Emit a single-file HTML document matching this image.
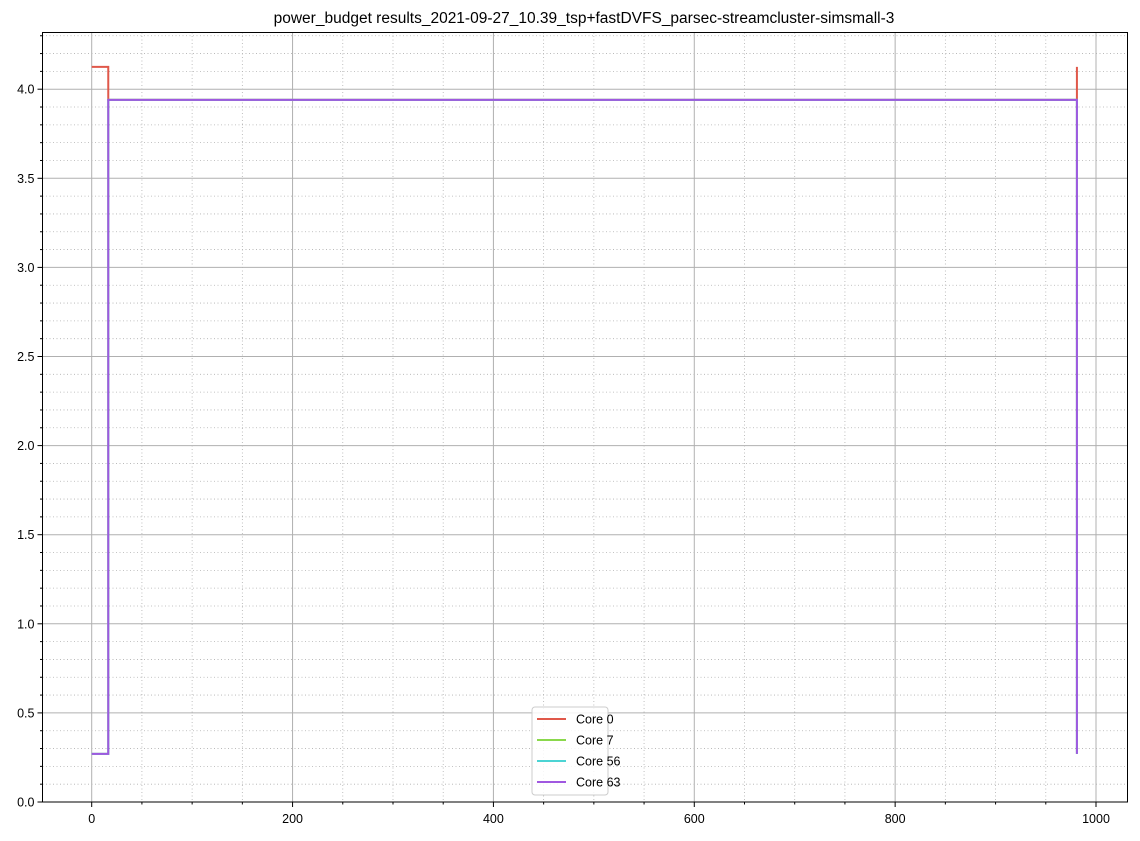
<!DOCTYPE html>
<html><head><meta charset="utf-8"><style>body{margin:0;background:#fff}svg{font-family:"Liberation Sans","DejaVu Sans",sans-serif}</style></head>
<body>
<svg id="chart" width="1140" height="836">
<text x="584" y="23" font-size="15.5" text-anchor="middle">power_budget results_2021-09-27_10.39_tsp+fastDVFS_parsec-streamcluster-simsmall-3</text>
<g id="grid"></g><g id="series"></g><g id="axes"></g>
</svg>
<script>
const xTicks=[0,200,400,600,800,1000];
const yTicks=[0,0.5,1,1.5,2,2.5,3,3.5,4];
const seriesNames=["Core 0","Core 7","Core 56","Core 63"];
const seriesColors=["#e0584a","#8ad84c","#4cd4d4","#a058e0"];
const stepX=[0,16.5,979,981];
const core0=[4.125,3.94,3.94,4.125];
const core7=[0.27,3.94,3.94,0.27];
const core56=[0.27,3.94,3.94,0.27];
const core63=[0.27,3.94,3.94,0.27];
const L=42.5,R=1127.5,T=32.5,B=802;
const X=v=>91.7+v*1.0043, Y=v=>B-v*178.2;
const ns="http://www.w3.org/2000/svg";
function mk(t,a,p){const e=document.createElementNS(ns,t);for(const k in a)e.setAttribute(k,a[k]);p.appendChild(e);return e;}
const g=document.getElementById('grid'),s=document.getElementById('series'),ax=document.getElementById('axes');
for(let v=-50;v<=1030;v+=50){const x=X(v);if(x<L||x>R)continue;const maj=v%200===0;
 const l=mk('line',{x1:x,x2:x,y1:T,y2:B,stroke:'#b0b0b0','stroke-width':maj?1:0.8,'stroke-dasharray':maj?'':'1,2.5'},g);
 
 const t=mk('line',{x1:x,x2:x,y1:B,y2:B+(maj?5:2.5),stroke:'#000'},ax);}
for(let i=0;i<=43;i++){const v=i/10,y=Y(v);if(y<T)continue;const maj=i%5===0;
 const l=mk('line',{x1:L,x2:R,y1:y,y2:y,stroke:'#b0b0b0','stroke-width':maj?1:0.8,'stroke-dasharray':maj?'':'1,2.5'},g);
 
 const t=mk('line',{x1:L,x2:L-(maj?5:2.5),y1:y,y2:y,stroke:'#000'},ax);}
xTicks.forEach(v=>{const t=mk('text',{x:X(v),y:B+21,'font-size':12.5,'text-anchor':'middle'},ax);t.textContent=v;});
yTicks.forEach(v=>{const t=mk('text',{x:L-8,y:Y(v)+4.5,'font-size':12.5,'text-anchor':'end'},ax);t.textContent=v.toFixed(1);});
const fr=mk('rect',{x:L,y:T,width:R-L,height:B-T,fill:'none',stroke:'#000','stroke-width':1},ax);

[core0,core7,core56,core63].forEach((d,i)=>{
 let q='M'+X(stepX[0])+','+Y(d[0]);for(let k=1;k<d.length;k++){q+='L'+X(stepX[k])+','+Y(d[k-1])+'L'+X(stepX[k])+','+Y(d[k]);}
 const e=mk('path',{d:q,fill:'none',stroke:seriesColors[i],'stroke-width':2},s);
 });
const lg=mk('g',{},ax);
mk('rect',{x:532,y:707,width:76,height:88,rx:3,fill:'#fff','fill-opacity':0.85,stroke:'#ccc'},lg);
seriesNames.forEach((n,i)=>{const y=719+i*21;
 const l=mk('line',{x1:537,x2:566,y1:y,y2:y,stroke:seriesColors[i],'stroke-width':2},lg);
 const t=mk('text',{x:576,y:y+4.5,'font-size':12.5},lg);t.textContent=n;});
</script>
</body></html>
